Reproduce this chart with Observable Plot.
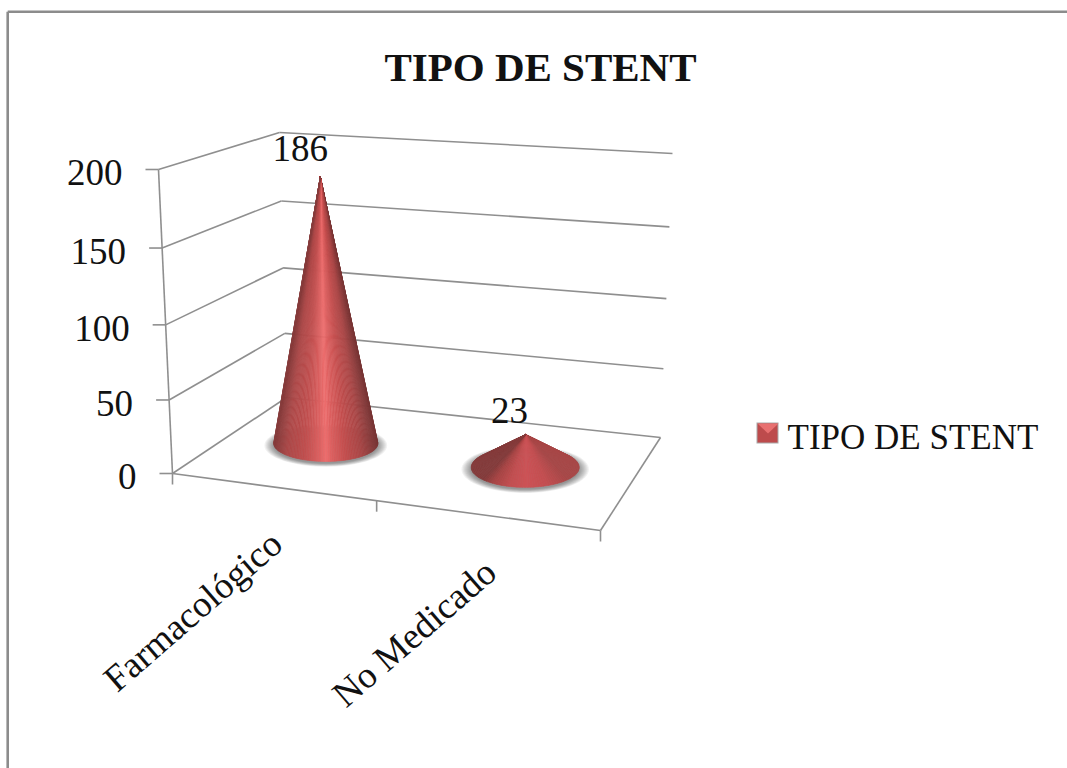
<!DOCTYPE html>
<html>
<head>
<meta charset="utf-8">
<style>html,body{margin:0;padding:0;background:#fff}svg{display:block}</style>
<script src="https://cdn.jsdelivr.net/npm/d3@7"></script>
<script src="https://cdn.jsdelivr.net/npm/@observablehq/plot@0.6"></script>
</head>
<body>
<div id="chart"></div>
<script>
// ---- data ----
const chartTitle = "TIPO DE STENT";
const seriesName = "TIPO DE STENT";
const categories = ["Farmacológico", "No Medicado"];
const values = [186, 23];
const valueTicks = [0, 50, 100, 150, 200];

// ---- oblique view of the 3-D box (chart space -> picture plane) ----
const W = 1067, H = 768, zMax = 200;
const floorFL = [172, 473], floorFR = [600, 530], floorBL = [286, 397], floorBR = [660, 437];
const liftFL = [-14, -304], liftFR = [5, -323], liftBL = [-7, -265], liftBR = [12, -284];
const lerp = (a, b, t) => [a[0] + (b[0] - a[0]) * t, a[1] + (b[1] - a[1]) * t];
const bilerp = (fl, fr, bl, br, u, d) => lerp(lerp(fl, fr, u), lerp(bl, br, u), d);
const heightT = z => { const s = z / zMax; return s / (1 + 0.045 * (1 - s)); };
function project(u, d, z) {
  const f = bilerp(floorFL, floorFR, floorBL, floorBR, u, d);
  const l = bilerp(liftFL, liftFR, liftBL, liftBR, u, d);
  const t = heightT(z);
  return [f[0] + l[0] * t, f[1] + l[1] * t];
}
const catU = i => 0.23 + 0.5 * i;
const catDepth = 0.54;
const tickU = [0, 0.477, 1];

// ---- appearance ----
const lineColor = "#8f8f8f", ink = "#111", serif = "'Liberation Serif', serif";
const coneRx = [52, 54], coneRy = [18, 20];
const shadeStops = [
  {at: [0, .12, .3, .44, .5, .56, .68, .85, 1],
   col: ["#863c3c", "#ac4848", "#c25050", "#dd6262", "#ee6e6e", "#dc6060", "#c65050", "#a84646", "#783636"]},
  {at: [0, .12, .3, .5, .75, 1],
   col: ["#843a3a", "#a84444", "#c24e50", "#cc5256", "#c44e50", "#a84646"]}
];
const labelOffset = [[-20, -28], [-16, -23]];

// ---- derived mark tables ----
const link = (a, b, extra = {}) => ({x1: a[0], y1: a[1], x2: b[0], y2: b[1], ...extra});
const frame = [
  ...valueTicks.map(v => link(project(0, 0, v), project(0, 1, v))),
  ...valueTicks.map(v => link(project(0, 1, v), project(1, 1, v))),
  link(project(0, 0, 0), project(0, 0, zMax)),
  link(project(0, 0, 0), project(1, 0, 0)),
  link(project(1, 0, 0), project(1, 1, 0)),
  ...valueTicks.map(v => { const p = project(0, 0, v); return link([p[0] - 13, p[1]], p); }),
  ...tickU.map(u => { const p = project(u, 0, 0); return link(p, [p[0], p[1] + 11]); })
];

const cones = values.map((v, i) => ({
  i, v,
  c: project(catU(i), catDepth, 0),
  a: project(catU(i), catDepth, v),
  rx: coneRx[i], ry: coneRy[i]
}));

const ringRows = [];
cones.forEach(k => {
  d3.range(9).forEach(r => {
    const sc = 1.18 - r * 0.0225;
    d3.range(0, 73).forEach(n => {
      const t = n / 72 * 2 * Math.PI;
      ringRows.push({z: `${k.i}-${r}`, x: k.c[0] + k.rx * sc * Math.cos(t), y: k.c[1] + 2 + k.ry * sc * Math.sin(t)});
    });
  });
});

const wedgeRows = [];
cones.forEach(k => {
  const ax = (k.a[0] - k.c[0]) / k.rx, ay = (k.a[1] - k.c[1]) / k.ry;
  const phi = Math.atan2(ay, ax), th = Math.acos(1 / Math.hypot(ax, ay));
  const t0 = phi + th, t1 = phi - th + 2 * Math.PI; // right tangent, round the front, left tangent
  const shade = d3.scaleLinear().domain(shadeStops[k.i].at).range(shadeStops[k.i].col);
  const n = 90;
  d3.range(n).forEach(j => {
    const a0 = t0 + (t1 - t0) * j / n, a1 = t0 + (t1 - t0) * (j + 1) / n;
    const mid = (a0 + a1) / 2;
    const s = d3.scaleLinear().domain([Math.cos(t1), Math.cos(t0)]).clamp(true)(Math.cos(mid));
    const col = shade(s);
    const pts = [k.a,
      [k.c[0] + k.rx * Math.cos(a0), k.c[1] + k.ry * Math.sin(a0)],
      [k.c[0] + k.rx * Math.cos(a1), k.c[1] + k.ry * Math.sin(a1)]];
    pts.concat([k.a]).forEach(p => wedgeRows.push({z: `${k.i}-${j}`, x: p[0], y: p[1], col}));
  });
});

const axisRows = valueTicks.map(v => { const p = project(0, 0, v); return {label: String(v), x: p[0] - 36, y: p[1] + 4}; });
const catRows = categories.map((c, i) => { const p = project(catU(i), 0, 0); return {label: c, x: p[0], y: p[1]}; });
const valueRows = cones.map(k => ({label: String(k.v), x: k.a[0] + labelOffset[k.i][0], y: k.a[1] + labelOffset[k.i][1]}));

// legend swatch
const sw = {x1: 757, x2: 778, y1: 423, y2: 443};
const swBevel = [
  {x: sw.x1, y: sw.y1}, {x: sw.x2, y: sw.y1}, {x: (sw.x1 + sw.x2) / 2, y: sw.y1 + 10}, {x: sw.x1, y: sw.y1}
];

const plot = Plot.plot({
  width: W, height: H, margin: 0,
  x: {domain: [0, W], range: [0, W], axis: null},
  y: {domain: [0, H], range: [0, H], axis: null},
  color: {type: "identity"},
  marks: [
    // outer chart border
    Plot.link([link([7.2, 11.2], [W, 11.2]), link([7.2, 11.2], [7.2, H])],
      {x1: "x1", y1: "y1", x2: "x2", y2: "y2", stroke: "#8c8c8c", strokeWidth: 2.6}),
    // box frame, gridlines and ticks
    Plot.link(frame, {x1: "x1", y1: "y1", x2: "x2", y2: "y2", stroke: lineColor, strokeWidth: 1.6}),
    // soft shadows under the cones
    Plot.line(ringRows, {x: "x", y: "y", z: "z", fill: "#000", fillOpacity: 0.055, stroke: null}),
    // cones
    Plot.line(wedgeRows, {x: "x", y: "y", z: "z", fill: "col", stroke: "col", strokeWidth: 0.6}),
    // title
    Plot.text([chartTitle], {x: () => 540, y: () => 67, text: d => d, fontFamily: serif, fontWeight: "bold", fontSize: 41, fill: ink, lineAnchor: "middle"}),
    // value axis labels
    Plot.text(axisRows, {x: "x", y: "y", text: "label", textAnchor: "end", lineAnchor: "middle", fontFamily: serif, fontSize: 37, fill: ink}),
    // category labels
    Plot.text(catRows, {x: "x", y: "y", text: "label", textAnchor: "end", lineAnchor: "middle", rotate: -41, dx: 6, dy: 52, fontFamily: serif, fontSize: 37, fill: ink}),
    // data labels
    Plot.text(valueRows, {x: "x", y: "y", text: "label", lineAnchor: "middle", fontFamily: serif, fontSize: 37, fill: ink}),
    // legend
    Plot.rect([sw], {x1: "x1", x2: "x2", y1: "y1", y2: "y2", fill: "#bd4b4c", stroke: "#a9a9a9", strokeWidth: 1}),
    Plot.line(swBevel, {x: "x", y: "y", fill: "#e87070", stroke: null}),
    Plot.text([seriesName], {x: () => 787, y: () => 437, text: d => d, textAnchor: "start", lineAnchor: "middle", fontFamily: serif, fontSize: 35, fill: ink})
  ]
});
document.getElementById("chart").append(plot);
</script>
</body>
</html>
